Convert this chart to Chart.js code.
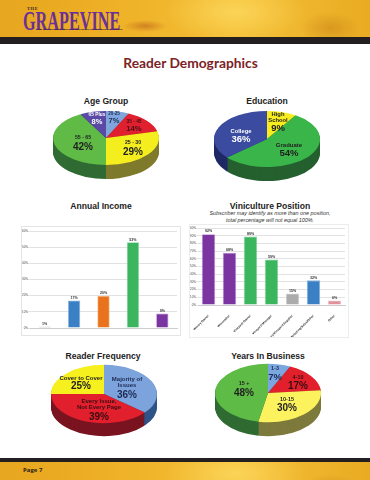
<!DOCTYPE html>
<html>
<head>
<meta charset="utf-8">
<title>Reader Demographics</title>
<script src="https://cdn.jsdelivr.net/npm/chart.js@4"></script>
<style>
    html, body { margin: 0; padding: 0; background: #fff; }
    #page { position: relative; width: 370px; height: 480px; overflow: hidden; background: #fff; font-family: "Liberation Sans", Arial, sans-serif; }
    #page canvas { position: absolute; }
    .gold {
        position: absolute; left: 0; width: 370px;
        background:
            radial-gradient(ellipse 22px 6px at 145px 26px, rgba(170,70,20,.45), transparent),
            radial-gradient(ellipse 70px 30px at 235px 12px, rgba(255,220,100,.7), transparent),
            radial-gradient(ellipse 30px 16px at 330px 28px, rgba(170,95,10,.3), transparent),
            linear-gradient(90deg, #e6a61f 0%, #eeb026 30%, #f4c038 65%, #e9ab22 100%);
    }
    #top { top: 0; height: 37px; }
    #bottom { top: 462px; height: 18px; }
    .band { position: absolute; left: 0; width: 370px; background: #231f20; }
    .abs { position: absolute; white-space: nowrap; }
    .head { font-weight: bold; font-size: 8.6px; color: #222; text-align: center; }
</style>
</head>
<body>
<div id="page">
    <div class="gold" id="top"></div>
    <div class="band" style="top:37px;height:7px"></div>
    <div class="abs" style="left:27px;top:6px;font:bold 4.5px 'Liberation Serif';color:#3a2a20;letter-spacing:.6px">THE</div>
    <div class="abs" id="logo" style="left:23px;top:9px;font:bold 27px/25px 'Liberation Serif';color:#6a2f98;transform-origin:0 0;transform:scaleX(.6)">GRAPEVINE</div>
    <div class="abs" style="left:37px;top:28px;font:bold 2.4px 'Liberation Sans';color:#3a2a20">Your Best Information Source for Winemaking &amp; Grape Growing in America</div>
    <div class="abs" style="left:0;width:381px;top:54px;text-align:center;font:bold 13.8px Lato;color:#7b2326">Reader Demographics</div>

    <div class="abs head" style="left:26px;width:160px;top:96px">Age Group</div>
    <div class="abs head" style="left:187px;width:160px;top:96px">Education</div>
    <div class="abs head" style="left:21px;width:160px;top:201px">Annual Income</div>
    <div class="abs head" style="left:190px;width:160px;top:201px">Viniculture Position</div>
    <div class="abs" style="left:190px;width:160px;top:210px;text-align:center;font:italic 5.4px/7px 'Liberation Sans';color:#333">Subscriber may identify as more than one position,<br>total percentage will not equal 100%.</div>
    <div class="abs head" style="left:23px;width:160px;top:351px">Reader Frequency</div>
    <div class="abs head" style="left:188px;width:160px;top:351px">Years In Business</div>

    <canvas id="age" width="140" height="110" style="left:36px;top:83px"></canvas>
    <canvas id="education" width="140" height="110" style="left:197px;top:84px"></canvas>
    <canvas id="income" width="158" height="108" style="left:22px;top:227px;box-shadow:0 0 0 1px #e4e4e4"></canvas>
    <canvas id="position" width="158" height="112" style="left:190px;top:225px;box-shadow:0 0 0 1px #ececec"></canvas>
    <canvas id="frequency" width="140" height="110" style="left:34px;top:339px"></canvas>
    <canvas id="years" width="140" height="110" style="left:198px;top:338px"></canvas>

    <div class="band" style="top:458px;height:4px"></div>
    <div class="gold" id="bottom"></div>
    <div class="abs" style="left:23px;top:466px;font:bold 6px 'Open Sans';color:#2b2118">Page 7</div>
</div>

<script>
const ageValues = [7, 14, 29, 42, 8];
const ageColors = ["#7ea6dc", "#e0202e", "#f4ee1e", "#5fbb46", "#5a4aa5"];
const ageWalls = ["#48678c", "#8a1a1f", "#7f7a2c", "#2f6b32", "#352c6a"];

const eduValues = [9, 54, 36];
const eduColors = ["#f7ec1e", "#39b54a", "#3b4ba0"];
const eduWalls = ["#7f7a2c", "#25602f", "#1f2a66"];

const freqValues = [36, 39, 25];
const freqColors = ["#7ca3db", "#e21f2d", "#f6f01e"];
const freqWalls = ["#2f5387", "#7a1420", "#80802a"];

const yearValues = [7, 17, 30, 48];
const yearColors = ["#7aa7e0", "#e1202c", "#fbf25e", "#5dbb46"];
const yearWalls = ["#48678c", "#8a1a1f", "#7d7a3c", "#2f6b32"];

const incomeLabels = ["Unknown", "$25-$50K", "$50-$99K", "$100K-$250K", "$250K+"];
const incomeValues = [1, 17, 20, 53, 9];
const incomeColors = ["#b5b5b5", "#3b7fc4", "#e8731c", "#3bb55e", "#7a35a0"];
const incomeBorders = ["#d8d8d8", "#8fb8e0", "#f4b888", "#8fd8a8", "#c09ad4"];

const positionLabels = ["Winery Owner", "Winemaker", "Vineyard Owner", "Vineyard Manager", "Winery/Vineyard Supplier", "Marketing/Sales/Other", "Other"];
const positionValues = [92, 68, 89, 59, 15, 32, 6];
const positionColors = ["#7a35a0", "#7a35a0", "#3bb55e", "#3bb55e", "#ababab", "#3b7fc4", "#e0929c"];
const positionBorders = ["#c09ad4", "#c09ad4", "#8fd8a8", "#8fd8a8", "#d8d8d8", "#8fb8e0", "#f0c8cc"];

// text on the pies: [text, dx from centre, dy from centre, size, colour]
const ageText = [
    ["65 Plus", -9, -23, 4.8, "#fff"], ["8%", -9, -16, 7.5, "#fff"],
    ["20-25", 8, -24, 4.6, "#1d2a55"], ["7%", 8, -17, 7.5, "#1d2a55"],
    ["35 - 45", 28, -16, 4.8, "#4a1016"], ["14%", 28, -9, 7.7, "#4a1016"],
    ["25 - 30", 27, 5, 5.2, "#222"], ["29%", 27, 14, 10, "#222"],
    ["55 - 65", -23, 0, 5.2, "#222"], ["42%", -23, 9, 10, "#222"],
];
const eduText = [
    ["High", 11, -25, 5.8, "#222"], ["School", 11, -19, 5.8, "#222"], ["9%", 11, -11, 9.5, "#222"],
    ["College", -26, -8, 5.8, "#fff"], ["36%", -26, 0, 9.5, "#fff"],
    ["Graduate", 22, 6, 6, "#222"], ["54%", 22, 14, 9.5, "#222"],
];
const freqText = [
    ["Cover to Cover", -23, -16, 6, "#222"], ["25%", -23, -8, 10, "#222"],
    ["Majority of", 23, -15, 6, "#1d2a55"], ["Issues", 23, -9, 6, "#1d2a55"], ["36%", 23, 1, 10, "#1d2a55"],
    ["Every Issue,", -5, 7, 6, "#3a0d12"], ["Not Every Page", -5, 13, 6, "#3a0d12"], ["39%", -5, 23, 10, "#3a0d12"],
];
const yearText = [
    ["1-3", 7, -24, 5.4, "#1d2a55"], ["7%", 7, -16, 9.5, "#1d2a55"],
    ["4-10", 30, -15, 5.4, "#3a0d12"], ["17%", 30, -7, 10, "#3a0d12"],
    ["10-15", 19, 7, 5.4, "#222"], ["30%", 19, 15, 10, "#222"],
    ["15 +", -24, -9, 5.4, "#222"], ["48%", -24, 0, 10, "#222"],
];

// flattens the pie into an ellipse and paints the dark side wall under it
const tiltPlugin = {
    id: "tilt",
    beforeDatasetsDraw(chart, args, opts) {
        const ctx = chart.ctx;
        const arcs = chart.getDatasetMeta(0).data;
        const cx = arcs[0].x;
        const cy = arcs[0].y;
        for (let d = opts.depth; d >= 1; d--) {
            ctx.save();
            ctx.translate(cx, cy + d);
            ctx.scale(1, opts.squash);
            arcs.forEach((arc, i) => {
                ctx.fillStyle = opts.walls[i];
                ctx.beginPath();
                ctx.moveTo(0, 0);
                ctx.arc(0, 0, arc.outerRadius, arc.startAngle, arc.endAngle);
                ctx.closePath();
                ctx.fill();
            });
            ctx.restore();
        }
        ctx.save();
        ctx.translate(cx, cy);
        ctx.scale(1, opts.squash);
        ctx.translate(-cx, -cy);
    },
    afterDatasetsDraw(chart, args, opts) {
        const ctx = chart.ctx;
        const arc = chart.getDatasetMeta(0).data[0];
        ctx.restore();
        ctx.textAlign = "center";
        ctx.textBaseline = "middle";
        opts.text.forEach(([text, dx, dy, size, color]) => {
            ctx.font = `bold ${size}px "Liberation Sans"`;
            ctx.fillStyle = color;
            ctx.fillText(text, arc.x + dx, arc.y + dy);
        });
    },
};

// small value labels above the bars
const barLabelPlugin = {
    id: "barLabel",
    afterDatasetsDraw(chart) {
        const ctx = chart.ctx;
        const values = chart.data.datasets[0].data;
        ctx.save();
        ctx.font = 'bold 3.6px "Liberation Sans"';
        ctx.fillStyle = "#333";
        ctx.textAlign = "center";
        ctx.textBaseline = "bottom";
        chart.getDatasetMeta(0).data.forEach((bar, i) => {
            ctx.fillText(values[i] + "%", bar.x, bar.y - 1);
        });
        ctx.restore();
    },
};

function makePie(id, values, colors, walls, text, squash, depth) {
    new Chart(document.getElementById(id), {
        type: "pie",
        data: { datasets: [{ data: values, backgroundColor: colors, borderWidth: 0 }] },
        options: {
            responsive: false,
            animation: false,
            layout: { padding: 2 },
            plugins: {
                legend: { display: false },
                tooltip: { enabled: false },
                tilt: { squash: squash, depth: depth, walls: walls, text: text },
            },
        },
        plugins: [tiltPlugin],
    });
}

function makeBars(id, labels, values, colors, borders, cfg) {
    new Chart(document.getElementById(id), {
        type: "bar",
        plugins: [barLabelPlugin],
        data: {
            labels: labels,
            datasets: [{
                data: values,
                backgroundColor: colors,
                borderColor: borders,
                borderWidth: 0.8,
                barPercentage: cfg.barWidth,
                categoryPercentage: 1,
            }],
        },
        options: {
            responsive: false,
            animation: false,
            layout: { padding: cfg.padding },
            plugins: { legend: { display: false }, tooltip: { enabled: false } },
            scales: {
                x: {
                    grid: { display: false },
                    border: { color: "#ccc" },
                    ticks: { font: { size: cfg.labelSize, weight: "bold" }, color: "#333", autoSkip: false, padding: 1, minRotation: cfg.rotation, maxRotation: cfg.rotation },
                    afterFit: (scale) => { scale.height = cfg.xHeight; },
                },
                y: {
                    min: 0,
                    max: cfg.max,
                    grid: { color: "#e2e2e2", tickLength: 2 },
                    border: { display: false },
                    ticks: { stepSize: 10, font: { size: 3 }, color: "#444", padding: 0, callback: (v) => v + "%" },
                    afterFit: (scale) => { scale.width = cfg.yWidth; },
                },
            },
        },
    });
}

makePie("age", ageValues, ageColors, ageWalls, ageText, 0.51, 14);
makePie("education", eduValues, eduColors, eduWalls, eduText, 0.53, 14);
makePie("frequency", freqValues, freqColors, freqWalls, freqText, 0.55, 13);
makePie("years", yearValues, yearColors, yearWalls, yearText, 0.55, 14);

makeBars("income", incomeLabels, incomeValues, incomeColors, incomeBorders, {
    barWidth: 0.42, rotation: 0, max: 60, xHeight: 7, yWidth: 8, labelSize: 3.2,
    padding: { top: 4, right: 3, left: 0, bottom: 0 },
});
makeBars("position", positionLabels, positionValues, positionColors, positionBorders, {
    barWidth: 0.64, rotation: 45, max: 100, xHeight: 32, yWidth: 8, labelSize: 3.1,
    padding: { top: 3, right: 3, left: 0, bottom: 0 },
});
</script>
</body>
</html>
